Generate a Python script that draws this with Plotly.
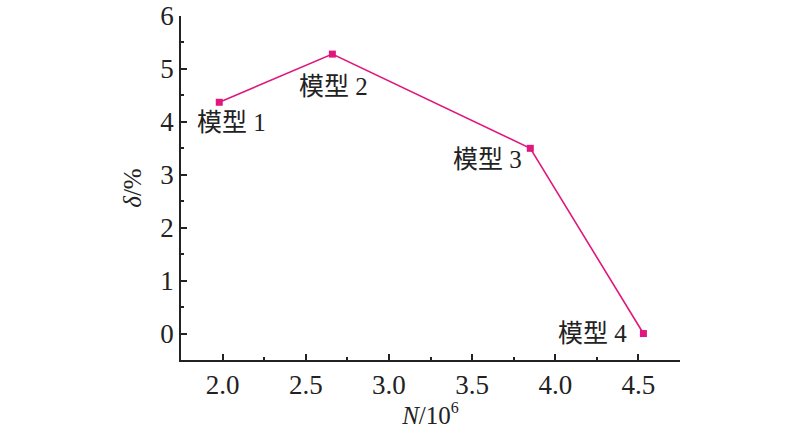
import plotly.graph_objects as go

# Data
models = ["模型 1", "模型 2", "模型 3", "模型 4"]
N = [1.98, 2.66, 3.85, 4.53]
delta = [4.37, 5.28, 3.50, 0.0]
x_ticks = [2.0, 2.5, 3.0, 3.5, 4.0, 4.5]
y_ticks = [0, 1, 2, 3, 4, 5, 6]

color = "#E0177D"
font_fam = "Liberation Serif, Noto Sans CJK SC"

fig = go.Figure()
fig.add_trace(go.Scatter(
    x=N, y=delta, mode="lines+markers",
    line=dict(color=color, width=1.6),
    marker=dict(symbol="square", size=7, color=color),
    showlegend=False, cliponaxis=False, hoverinfo="skip",
))

# label offsets (pixels) relative to each point
shifts = [(12, -20), (1, -32), (-43, -11), (-51, 0)]
for name, xv, yv, (dx, dy) in zip(models, N, delta, shifts):
    fig.add_annotation(
        x=xv, y=yv, xref="x", yref="y", text=name, showarrow=False,
        xshift=dx, yshift=dy,
        font=dict(family=font_fam, size=25, color="#222"),
    )

fig.update_xaxes(
    range=[1.75, 4.75], tickvals=x_ticks, ticktext=[f"{v:.1f}" for v in x_ticks],
    ticks="inside", ticklen=6, tickwidth=1.5, tickcolor="#222",
    minor=dict(tickvals=[1.75 + 0.25 * i for i in range(13)], ticks="inside", ticklen=3, tickwidth=1.5, tickcolor="#222"),
    showline=True, linecolor="#222", linewidth=1.5, showgrid=False, zeroline=False,
    tickfont=dict(family=font_fam, size=27, color="#222"),
    automargin=False,
    title=dict(text="<i>N</i>/10<sup><span style='font-size:16px'>6</span></sup>",
               font=dict(family=font_fam, size=25, color="#222"), standoff=0),
)
fig.update_yaxes(
    range=[-0.5, 6], tickvals=y_ticks,
    ticks="inside", ticklen=6, tickwidth=1.5, tickcolor="#222",
    minor=dict(tickvals=[-0.5 + 0.5 * i for i in range(14)], ticks="inside", ticklen=3, tickwidth=1.5, tickcolor="#222"),
    showline=True, linecolor="#222", linewidth=1.5, showgrid=False, zeroline=False,
    tickfont=dict(family=font_fam, size=27, color="#222"),
    ticklabelstandoff=0, automargin=False,
    title=dict(text="<i>δ</i>/%", font=dict(family=font_fam, size=25, color="#222"), standoff=12),
)
fig.update_layout(
    width=800, height=429,
    margin=dict(l=181, r=120, t=16, b=69),
    plot_bgcolor="white", paper_bgcolor="white",
)
fig.write_html("out.html", config={"displayModeBar": False},
               post_script="document.body.style.margin='0';")
